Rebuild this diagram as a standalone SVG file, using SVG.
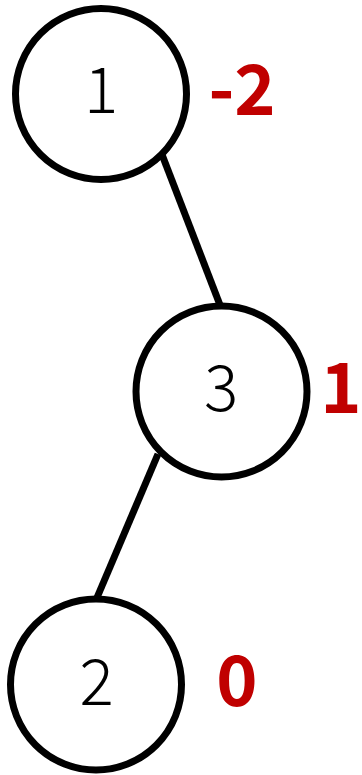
<svg xmlns="http://www.w3.org/2000/svg" width="362" height="775" viewBox="0 0 362 775">
<style>
.edge{stroke:#000;stroke-width:7;fill:none}
.node circle{fill:#fff;stroke:#000;stroke-width:7}
.key{font-family:"Noto Sans CJK JP","Noto Sans",sans-serif;font-weight:300;font-size:64px;fill:#000;text-anchor:middle}
.bal{font-family:"Noto Sans CJK JP","Noto Sans",sans-serif;font-weight:bold;font-size:70px;fill:#C00000;text-anchor:middle}
</style>
<rect width="362" height="775" fill="#fff"/>
<g id="connectors">
<line class="edge" x1="161" y1="152" x2="220" y2="305"/>
<line class="edge" x1="158" y1="454" x2="96" y2="600"/>
</g>
<g id="node1" class="node">
<circle cx="101" cy="94" r="85.5"/>
<text class="key" x="101" y="113">1</text>
<text class="bal" x="242" y="115">-2</text>
</g>
<g id="node3" class="node">
<circle cx="221.5" cy="391.5" r="85.5"/>
<text class="key" x="221" y="411">3</text>
<text class="bal" x="341" y="413">1</text>
</g>
<g id="node2" class="node">
<circle cx="96" cy="684.5" r="85.5"/>
<text class="key" x="96.5" y="705">2</text>
<text class="bal" x="237" y="706">0</text>
</g>
</svg>
